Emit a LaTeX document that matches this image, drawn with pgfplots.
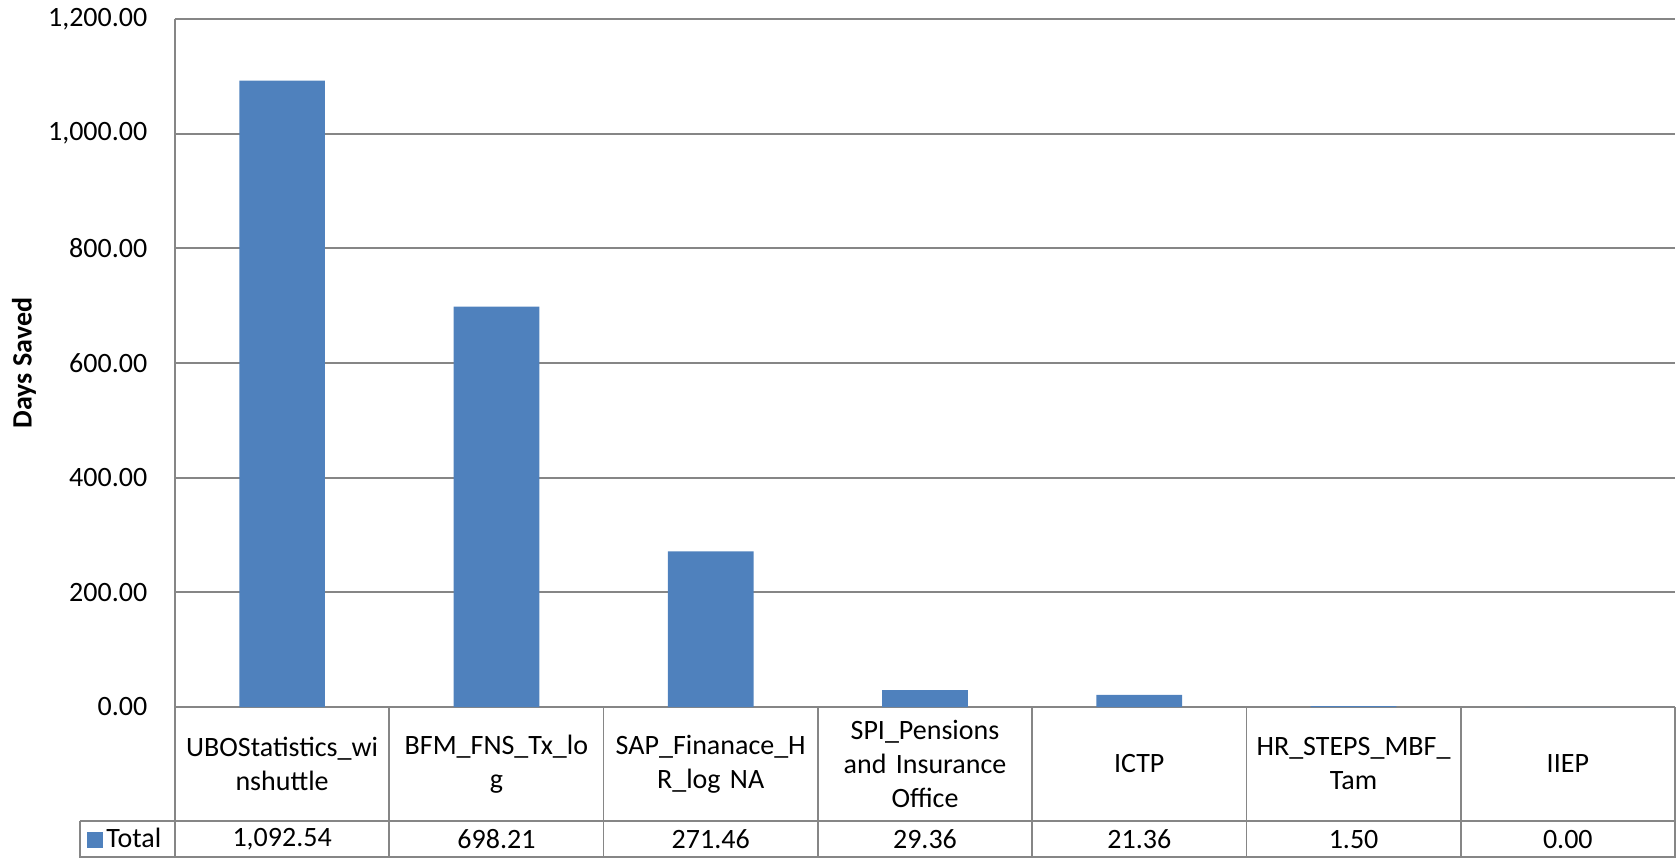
\documentclass[border=0pt]{standalone}
\usepackage{fontspec}
\setmainfont{Carlito}
\usepackage{pgfplots}
\pgfplotsset{compat=1.18}
\definecolor{barblue}{HTML}{4F81BD}
\definecolor{gridgray}{HTML}{868686}

\begin{document}
\fontsize{14}{17}\selectfont
\begin{tikzpicture}
\begin{axis}[
  scale only axis,
  width=750pt, height=344pt,
  xmin=-0.5, xmax=6.5,
  ymin=0, ymax=1200,
  xtick={0,...,6},
  ytick={0,200,...,1200},
  xticklabels={
    UBOStatistics\_wi\\nshuttle,
    BFM\_FNS\_Tx\_lo\\g,
    SAP\_Finanace\_H\\R\_log NA,
    SPI\_Pensions\\and Insurance\\Office,
    ICTP,
    HR\_STEPS\_MBF\_\\Tam,
    IIEP},
  xticklabel style={anchor=center, yshift=-28.5pt, text width=98pt, align=center},
  yticklabel style={xshift=-9pt,
    /pgf/number format/fixed,
    /pgf/number format/fixed zerofill,
    /pgf/number format/precision=2,
    /pgf/number format/1000 sep={,},
    /pgf/number format/assume math mode=true},
  scaled y ticks=false,
  major tick length=0pt,
  axis x line*=bottom, axis y line*=left,
  axis line style={gridgray, line width=0.9pt, -},
  ymajorgrids,
  grid style={gridgray, line width=0.9pt},
  clip=false,
  every axis y label/.style={at={(rel axis cs:0,0.5)}, xshift=-75.5pt,
    rotate=90, anchor=center, font=\bfseries},
  ylabel={Days Saved},
  legend style={at={(0,0)}, anchor=west, xshift=-44pt, yshift=-66.25pt,
    draw=none, fill=none, inner sep=0pt,
    nodes={inner sep=1.5pt}},
  legend image code/.code={\fill[barblue] (0pt,-4pt) rectangle (8pt,4pt);},
]
\addplot[ybar, bar width=0.4, fill=barblue, draw=none] coordinates {
  (0,1092.54) (1,698.21) (2,271.46) (3,29.36) (4,21.36) (5,1.50) (6,0.00)
};
\addlegendentry{Total}

% data table grid
\pgfplotsinvokeforeach{-0.5,0.5,1.5,2.5,3.5,4.5,5.5,6.5}{
  \draw[gridgray, line width=0.9pt] (axis cs:#1,0) -- ([yshift=-75.5pt]axis cs:#1,0);
}
\draw[gridgray, line width=0.9pt] ([shift={(-47.5pt,-57pt)}]axis cs:-0.5,0) -- ([yshift=-57pt]axis cs:6.5,0);
\draw[gridgray, line width=0.9pt] ([shift={(-47.5pt,-75pt)}]axis cs:-0.5,0) -- ([yshift=-75pt]axis cs:6.5,0);
\draw[gridgray, line width=0.9pt] ([shift={(-47.5pt,-57pt)}]axis cs:-0.5,0) -- ([shift={(-47.5pt,-75.5pt)}]axis cs:-0.5,0);

% values row
\node at ([yshift=-66.25pt]axis cs:0,0) {1,092.54};
\node at ([yshift=-66.25pt]axis cs:1,0) {698.21};
\node at ([yshift=-66.25pt]axis cs:2,0) {271.46};
\node at ([yshift=-66.25pt]axis cs:3,0) {29.36};
\node at ([yshift=-66.25pt]axis cs:4,0) {21.36};
\node at ([yshift=-66.25pt]axis cs:5,0) {1.50};
\node at ([yshift=-66.25pt]axis cs:6,0) {0.00};
\end{axis}
\pgfresetboundingbox
\path[use as bounding box] ([shift={(-87.5pt,-75.5pt)}]current axis.south west)
  rectangle ([shift={(1pt,9.5pt)}]current axis.north east);
\end{tikzpicture}
\end{document}
